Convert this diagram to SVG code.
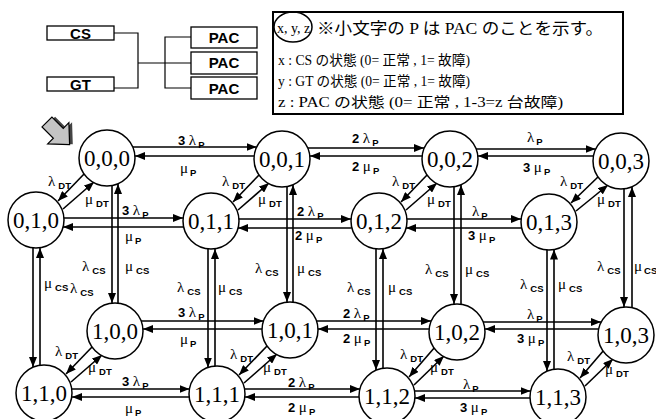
<svg xmlns="http://www.w3.org/2000/svg" width="656" height="419" viewBox="0 0 656 419">
<style>
.nd circle{fill:#fff;stroke:#000;stroke-width:1.5}
.nd text{font-family:"Liberation Serif",serif;font-size:23px;text-anchor:middle;fill:#000}
.c line{stroke:#000;stroke-width:1.6;marker-end:url(#ah)}
.l{font-family:"Liberation Sans",Arial,sans-serif;font-weight:bold;font-size:13px;fill:#000}
.g{font-family:"Liberation Serif",serif;font-weight:normal;font-size:15px}
.s{font-size:9.5px;font-weight:bold}
.box{fill:#fff;stroke:#000;stroke-width:1.3}
.bt{font-family:"Liberation Sans",Arial,sans-serif;font-weight:bold;font-size:15px;text-anchor:middle}
.wire{stroke:#000;stroke-width:1.2;fill:none}
.jp{font-family:"Liberation Serif","Noto Sans CJK JP",serif;fill:#000}
</style>
<defs>
<marker id="ah" viewBox="0 0 10 8" refX="10" refY="4" markerWidth="10" markerHeight="8" markerUnits="userSpaceOnUse" orient="auto"><path d="M0,0L10,4L0,8z" fill="#000"/></marker>
</defs>
<rect width="656" height="419" fill="#fff"/>

<g id="legend-system">
<rect class="box" x="47" y="26" width="67" height="14"/>
<text class="bt" x="80.5" y="38.5">CS</text>
<rect class="box" x="47" y="77" width="67" height="14"/>
<text class="bt" x="80.5" y="89.5">GT</text>
<rect class="box" x="191" y="27" width="66" height="21"/>
<text class="bt" x="224" y="43">PAC</text>
<rect class="box" x="191" y="52" width="66" height="22"/>
<text class="bt" x="224" y="68">PAC</text>
<rect class="box" x="191" y="77" width="66" height="22"/>
<text class="bt" x="224" y="94">PAC</text>
<path class="wire" d="M114,33H138V88H114M138,63H191M191,37H165V88H191"/>
</g>

<g id="legend-key">
<rect x="273" y="12" width="350" height="102" fill="#fff" stroke="#000" stroke-width="2"/>
<ellipse cx="293" cy="27" rx="19" ry="15" fill="none" stroke="#000" stroke-width="1.5"/>
<text class="jp" x="277" y="33" font-size="14">x, y, z</text>
<text class="jp" x="317" y="34" font-size="16" textLength="286" lengthAdjust="spacingAndGlyphs">※小文字の P は PAC のことを示す。</text>
<text class="jp" x="278" y="65" font-size="14" textLength="192" lengthAdjust="spacingAndGlyphs">x : CS の状態 (0= 正常 , 1= 故障)</text>
<text class="jp" x="278" y="86" font-size="14" textLength="192" lengthAdjust="spacingAndGlyphs">y : GT の状態 (0= 正常 , 1= 故障)</text>
<text class="jp" x="278" y="107" font-size="14" textLength="285" lengthAdjust="spacingAndGlyphs">z : PAC の状態 (0= 正常 , 1-3=z 台故障)</text>
</g>

<g id="start-arrow" transform="translate(59,134) rotate(-45)">
<polygon points="-7,-17 7,-17 7,-1 15,-1 0,15 -15,-1 -7,-1" fill="#444" transform="translate(2.5,2)"/>
<polygon points="-7,-17 7,-17 7,-1 15,-1 0,15 -15,-1 -7,-1" fill="#c4c4c4" stroke="#000" stroke-width="1.2"/>
</g>

<g id="connectors" class="c">
<line x1="133" y1="147" x2="256.5" y2="147"/>
<line x1="254" y1="156" x2="135" y2="156"/>
<line x1="308" y1="148" x2="424" y2="148"/>
<line x1="422" y1="156" x2="310" y2="156"/>
<line x1="476" y1="149" x2="595.5" y2="149"/>
<line x1="593.5" y1="156" x2="478" y2="156"/>
<line x1="64" y1="218" x2="183" y2="218"/>
<line x1="183.5" y1="227" x2="63" y2="227"/>
<line x1="239" y1="219" x2="351" y2="219"/>
<line x1="351.5" y1="228" x2="238" y2="228"/>
<line x1="407" y1="219" x2="521" y2="219"/>
<line x1="521.5" y1="228" x2="406" y2="228"/>
<line x1="141" y1="321" x2="263.5" y2="321"/>
<line x1="262" y1="329" x2="143" y2="329"/>
<line x1="316.5" y1="321" x2="431" y2="321"/>
<line x1="429" y1="329" x2="318" y2="329"/>
<line x1="483" y1="322" x2="601" y2="322"/>
<line x1="598.5" y1="329" x2="485" y2="329"/>
<line x1="72" y1="389" x2="189.5" y2="389"/>
<line x1="189" y1="397" x2="72" y2="397"/>
<line x1="244.5" y1="389" x2="360" y2="389"/>
<line x1="359" y1="397" x2="245" y2="397"/>
<line x1="414.5" y1="391" x2="530.5" y2="391"/>
<line x1="530" y1="398" x2="415" y2="398"/>

<line x1="112" y1="185.5" x2="112" y2="303"/>
<line x1="118" y1="303" x2="118" y2="184"/>
<line x1="33" y1="248" x2="33" y2="367"/>
<line x1="40" y1="365" x2="40" y2="248"/>
<line x1="287" y1="186.5" x2="287" y2="302"/>
<line x1="293" y1="302" x2="293" y2="185"/>
<line x1="208" y1="249" x2="208" y2="367.5"/>
<line x1="215" y1="366" x2="215" y2="249"/>
<line x1="454" y1="186.5" x2="454" y2="304"/>
<line x1="461" y1="304" x2="461" y2="185"/>
<line x1="376" y1="249" x2="376" y2="370"/>
<line x1="383" y1="368" x2="383" y2="249"/>
<line x1="624" y1="189" x2="624" y2="307"/>
<line x1="632" y1="307.5" x2="632" y2="187"/>
<line x1="547" y1="250" x2="547" y2="371"/>
<line x1="554" y1="369" x2="554" y2="249.5"/>

<line x1="85" y1="173" x2="58" y2="201"/>
<line x1="63" y1="209" x2="94" y2="182"/>
<line x1="260" y1="174" x2="233" y2="202"/>
<line x1="238" y1="210" x2="269" y2="183"/>
<line x1="428" y1="174" x2="401" y2="202"/>
<line x1="406" y1="210" x2="437" y2="183"/>
<line x1="599" y1="176" x2="571" y2="203"/>
<line x1="576" y1="211" x2="608" y2="185"/>
<line x1="93" y1="346" x2="66" y2="374"/>
<line x1="71" y1="382" x2="102" y2="355"/>
<line x1="268" y1="345" x2="239" y2="375"/>
<line x1="244" y1="383" x2="277" y2="354"/>
<line x1="435" y1="347" x2="409" y2="377"/>
<line x1="414" y1="385" x2="444" y2="356"/>
<line x1="604" y1="350" x2="580" y2="378"/>
<line x1="585" y1="386" x2="613" y2="359"/>
</g>

<g id="labels">
<text class="l" x="178" y="145">3 <tspan class="g">λ</tspan><tspan class="s" dx="2" dy="3">P</tspan></text>
<text class="l" x="180" y="173"><tspan class="g">μ</tspan><tspan class="s" dx="2" dy="3">P</tspan></text>
<text class="l" x="352" y="143">2 <tspan class="g">λ</tspan><tspan class="s" dx="2" dy="3">P</tspan></text>
<text class="l" x="352" y="171">2 <tspan class="g">μ</tspan><tspan class="s" dx="2" dy="3">P</tspan></text>
<text class="l" x="527" y="142"><tspan class="g">λ</tspan><tspan class="s" dx="2" dy="3">P</tspan></text>
<text class="l" x="523" y="172">3 <tspan class="g">μ</tspan><tspan class="s" dx="2" dy="3">P</tspan></text>

<text class="l" x="122" y="215">3 <tspan class="g">λ</tspan><tspan class="s" dx="2" dy="3">P</tspan></text>
<text class="l" x="125" y="241"><tspan class="g">μ</tspan><tspan class="s" dx="2" dy="3">P</tspan></text>
<text class="l" x="297" y="216">2 <tspan class="g">λ</tspan><tspan class="s" dx="2" dy="3">P</tspan></text>
<text class="l" x="295" y="240">2 <tspan class="g">μ</tspan><tspan class="s" dx="2" dy="3">P</tspan></text>
<text class="l" x="472" y="216"><tspan class="g">λ</tspan><tspan class="s" dx="2" dy="3">P</tspan></text>
<text class="l" x="468" y="240">3 <tspan class="g">μ</tspan><tspan class="s" dx="2" dy="3">P</tspan></text>

<text class="l" x="178" y="317">3 <tspan class="g">λ</tspan><tspan class="s" dx="2" dy="3">P</tspan></text>
<text class="l" x="180" y="344"><tspan class="g">μ</tspan><tspan class="s" dx="2" dy="3">P</tspan></text>
<text class="l" x="343" y="318">2 <tspan class="g">λ</tspan><tspan class="s" dx="2" dy="3">P</tspan></text>
<text class="l" x="343" y="343">2 <tspan class="g">μ</tspan><tspan class="s" dx="2" dy="3">P</tspan></text>
<text class="l" x="527" y="319"><tspan class="g">λ</tspan><tspan class="s" dx="2" dy="3">P</tspan></text>
<text class="l" x="517" y="343">3 <tspan class="g">μ</tspan><tspan class="s" dx="2" dy="3">P</tspan></text>

<text class="l" x="122" y="386">3 <tspan class="g">λ</tspan><tspan class="s" dx="2" dy="3">P</tspan></text>
<text class="l" x="125" y="413"><tspan class="g">μ</tspan><tspan class="s" dx="2" dy="3">P</tspan></text>
<text class="l" x="288" y="387">2 <tspan class="g">λ</tspan><tspan class="s" dx="2" dy="3">P</tspan></text>
<text class="l" x="288" y="412">2 <tspan class="g">μ</tspan><tspan class="s" dx="2" dy="3">P</tspan></text>
<text class="l" x="463" y="389"><tspan class="g">λ</tspan><tspan class="s" dx="2" dy="3">P</tspan></text>
<text class="l" x="460" y="412">3 <tspan class="g">μ</tspan><tspan class="s" dx="2" dy="3">P</tspan></text>

<text class="l" x="48" y="186"><tspan class="g">λ</tspan><tspan class="s" dx="3" dy="3">DT</tspan></text>
<text class="l" x="85" y="204"><tspan class="g">μ</tspan><tspan class="s" dx="3" dy="3">DT</tspan></text>
<text class="l" x="222" y="186"><tspan class="g">λ</tspan><tspan class="s" dx="3" dy="3">DT</tspan></text>
<text class="l" x="258" y="204"><tspan class="g">μ</tspan><tspan class="s" dx="3" dy="3">DT</tspan></text>
<text class="l" x="392" y="186"><tspan class="g">λ</tspan><tspan class="s" dx="3" dy="3">DT</tspan></text>
<text class="l" x="427" y="204"><tspan class="g">μ</tspan><tspan class="s" dx="3" dy="3">DT</tspan></text>
<text class="l" x="560" y="186"><tspan class="g">λ</tspan><tspan class="s" dx="3" dy="3">DT</tspan></text>
<text class="l" x="597" y="204"><tspan class="g">μ</tspan><tspan class="s" dx="3" dy="3">DT</tspan></text>
<text class="l" x="55" y="356"><tspan class="g">λ</tspan><tspan class="s" dx="3" dy="3">DT</tspan></text>
<text class="l" x="88" y="372"><tspan class="g">μ</tspan><tspan class="s" dx="3" dy="3">DT</tspan></text>
<text class="l" x="230" y="359"><tspan class="g">λ</tspan><tspan class="s" dx="3" dy="3">DT</tspan></text>
<text class="l" x="263" y="372"><tspan class="g">μ</tspan><tspan class="s" dx="3" dy="3">DT</tspan></text>
<text class="l" x="400" y="359"><tspan class="g">λ</tspan><tspan class="s" dx="3" dy="3">DT</tspan></text>
<text class="l" x="430" y="372"><tspan class="g">μ</tspan><tspan class="s" dx="3" dy="3">DT</tspan></text>
<text class="l" x="567" y="361"><tspan class="g">λ</tspan><tspan class="s" dx="3" dy="3">DT</tspan></text>
<text class="l" x="605" y="374"><tspan class="g">μ</tspan><tspan class="s" dx="3" dy="3">DT</tspan></text>

<text class="l" x="82" y="271"><tspan class="g">λ</tspan><tspan class="s" dx="3" dy="3">CS</tspan></text>
<text class="l" x="125" y="271"><tspan class="g">μ</tspan><tspan class="s" dx="3" dy="3">CS</tspan></text>
<text class="l" x="44" y="288"><tspan class="g">μ</tspan><tspan class="s" dx="3" dy="3">CS</tspan></text>
<text class="l" x="70" y="293"><tspan class="g">λ</tspan><tspan class="s" dx="3" dy="3">CS</tspan></text>
<text class="l" x="255" y="273"><tspan class="g">λ</tspan><tspan class="s" dx="3" dy="3">CS</tspan></text>
<text class="l" x="297" y="273"><tspan class="g">μ</tspan><tspan class="s" dx="3" dy="3">CS</tspan></text>
<text class="l" x="177" y="292"><tspan class="g">λ</tspan><tspan class="s" dx="3" dy="3">CS</tspan></text>
<text class="l" x="218" y="292"><tspan class="g">μ</tspan><tspan class="s" dx="3" dy="3">CS</tspan></text>
<text class="l" x="425" y="274"><tspan class="g">λ</tspan><tspan class="s" dx="3" dy="3">CS</tspan></text>
<text class="l" x="465" y="274"><tspan class="g">μ</tspan><tspan class="s" dx="3" dy="3">CS</tspan></text>
<text class="l" x="347" y="292"><tspan class="g">λ</tspan><tspan class="s" dx="3" dy="3">CS</tspan></text>
<text class="l" x="388" y="292"><tspan class="g">μ</tspan><tspan class="s" dx="3" dy="3">CS</tspan></text>
<text class="l" x="597" y="271"><tspan class="g">λ</tspan><tspan class="s" dx="3" dy="3">CS</tspan></text>
<text class="l" x="634" y="271"><tspan class="g">μ</tspan><tspan class="s" dx="2" dy="3">CS</tspan></text>
<text class="l" x="520" y="289"><tspan class="g">λ</tspan><tspan class="s" dx="3" dy="3">CS</tspan></text>
<text class="l" x="558" y="289"><tspan class="g">μ</tspan><tspan class="s" dx="3" dy="3">CS</tspan></text>
</g>

<g id="n000" class="nd"><circle cx="107" cy="158" r="28"/><text x="107" y="166">0,0,0</text></g>
<g id="n001" class="nd"><circle cx="282" cy="159" r="28"/><text x="282" y="167">0,0,1</text></g>
<g id="n002" class="nd"><circle cx="450" cy="159" r="28"/><text x="450" y="167">0,0,2</text></g>
<g id="n003" class="nd"><circle cx="621" cy="161" r="28"/><text x="621" y="169">0,0,3</text></g>
<g id="n010" class="nd"><circle cx="36" cy="220" r="28"/><text x="36" y="228">0,1,0</text></g>
<g id="n011" class="nd"><circle cx="211" cy="221" r="28"/><text x="211" y="229">0,1,1</text></g>
<g id="n012" class="nd"><circle cx="379" cy="221" r="28"/><text x="379" y="229">0,1,2</text></g>
<g id="n013" class="nd"><circle cx="549" cy="222" r="28"/><text x="549" y="230">0,1,3</text></g>
<g id="n100" class="nd"><circle cx="115" cy="331" r="28"/><text x="115" y="339">1,0,0</text></g>
<g id="n101" class="nd"><circle cx="290" cy="330" r="28"/><text x="290" y="338">1,0,1</text></g>
<g id="n102" class="nd"><circle cx="457" cy="332" r="28"/><text x="457" y="340">1,0,2</text></g>
<g id="n103" class="nd"><circle cx="626" cy="335" r="28"/><text x="626" y="343">1,0,3</text></g>
<g id="n110" class="nd"><circle cx="44" cy="393" r="28"/><text x="44" y="401">1,1,0</text></g>
<g id="n111" class="nd"><circle cx="217" cy="394" r="28"/><text x="217" y="402">1,1,1</text></g>
<g id="n112" class="nd"><circle cx="387" cy="396" r="28"/><text x="387" y="404">1,1,2</text></g>
<g id="n113" class="nd"><circle cx="558" cy="397" r="28"/><text x="558" y="405">1,1,3</text></g>
</svg>
